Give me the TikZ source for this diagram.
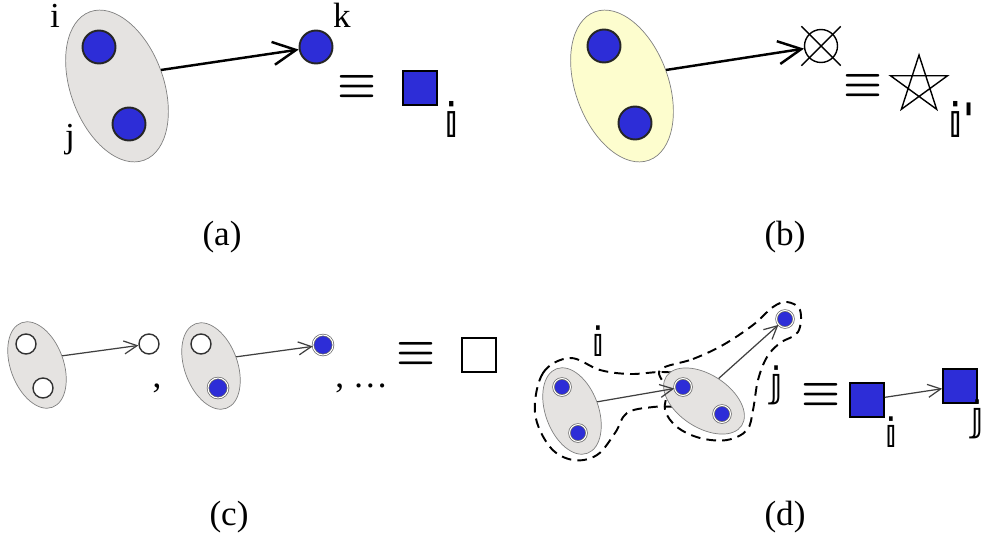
\documentclass[tikz,border=0pt]{standalone}
\usepackage{fontspec}
\setmainfont{Liberation Serif}
\newfontfamily\bbfont{DejaVu Sans}
\usetikzlibrary{shapes.geometric,shapes.misc,arrows.meta}

\definecolor{dotblue}{RGB}{45,45,215}
\definecolor{blobgray}{RGB}{229,227,225}
\definecolor{blobyellow}{RGB}{253,253,206}

\begin{document}
\begin{tikzpicture}[x=0.02cm,y=-0.02cm,
  blob/.style={ellipse,draw=black!50,fill=blobgray,inner sep=0pt,
    minimum width=3.16cm,minimum height=1.86cm,rotate=-70},
  smallblob/.style={blob,minimum width=1.8cm,minimum height=1.06cm},
  bigdot/.style={circle,draw=black!85,line width=1.1pt,fill=dotblue,
    inner sep=0pt,minimum size=0.66cm},
  smalldot/.style={circle,draw=black!80,line width=0.8pt,fill=white,
    inner sep=0pt,minimum size=0.4cm},
  ringdot/.style={smalldot,fill=dotblue,draw=black!60,line width=0.4pt,
    double=white,double distance=0.6pt},
  tinydot/.style={ringdot,minimum size=0.34cm},
  sq/.style={rectangle,draw=black,line width=1pt,fill=dotblue,
    inner sep=0pt,minimum size=0.68cm},
  bigarrow/.style={-{Straight Barb[length=0.46cm,width=0.46cm]},line width=1.4pt},
  thinarrow/.style={-{Straight Barb[length=0.26cm,width=0.26cm]},
    line width=0.7pt,black!75},
  hull/.style={dash pattern=on 5.5pt off 3.5pt,line width=1.1pt},
  lbl/.style={anchor=base,inner sep=0pt,font=\fontsize{20}{24}\selectfont},
  bblbl/.style={anchor=base,inner sep=0pt,font=\fontsize{27}{30}\bbfont},
  smallbb/.style={bblbl,font=\fontsize{23}{26}\bbfont},
  eqv/.style={inner sep=0pt,font=\fontsize{24}{28}\selectfont\boldmath}]
  \useasboundingbox (0,0) rectangle (986,537);

% (a) pair i,j feeding k
  \node[blob] (ea) at (117,86) {};
  \node[bigdot] (ai) at (99,47) {};
  \node[bigdot] (aj) at (129,124) {};
  \node[bigdot] (ak) at (316,47) {};
  \draw[bigarrow] (ea.north) -- (ak);
  \node[lbl] (li) at (55,28) {i};
  \node[lbl] (lj) at (70,147) {j};
  \node[lbl] (lk) at (342,28) {k};
  \node[eqv] (eqa) at (357,87) {$\equiv$};
  \node[sq] (sqa) at (420,88) {};
  \node[bblbl] (bba) at (451,137) {𝕚};
  \node[lbl] (capa) at (222,245) {(a)};

% (b) pair feeding a crossed site
  \node[blob,fill=blobyellow] (eb) at (622,86) {};
  \node[bigdot] (bi) at (604,46) {};
  \node[bigdot] (bj) at (635,123) {};
  \node[circle,draw,line width=0.8pt,inner sep=0pt,minimum size=0.66cm] (bk) at (821,46) {};
  \node[cross out,draw,line width=0.8pt,inner sep=0pt,minimum size=0.76cm] (bkx) at (bk) {};
  \draw[bigarrow] (eb.north) -- (bk);
  \node[eqv] (eqb) at (863,86) {$\equiv$};
  \coordinate (st) at (919,85);
  \draw[shift={(st)},line width=0.8pt,line join=miter]
    (-90:30) -- (54:30) -- (198:30) -- (-18:30) -- (126:30) -- cycle;
  \node[bblbl] (bbb) at (961,137) {𝕚'};
  \node[lbl] (capb) at (785,245) {(b)};

% (c) empty and occupied configurations
  \node[smallblob] (ec1) at (37,365) {};
  \node[smalldot] (c1i) at (26,344) {};
  \node[smalldot] (c1j) at (43,388) {};
  \node[smalldot] (c1k) at (149,344) {};
  \draw[thinarrow] (ec1.north) -- (c1k);
  \node[lbl] (cm1) at (157,387) {,};
  \node[smallblob] (ec2) at (211,366) {};
  \node[smalldot] (c2i) at (201,344) {};
  \node[ringdot] (c2j) at (218,388) {};
  \node[ringdot] (c2k) at (323,345) {};
  \draw[thinarrow] (ec2.north) -- (c2k);
  \node[lbl,anchor=base west] (cm2) at (335,387) {,~\ldots};
  \node[eqv] (eqc) at (416,354) {$\equiv$};
  \node[sq,fill=white] (sqc) at (479,355) {};
  \node[lbl] (capc) at (229,525) {(c)};

% (d) two composite sites i and j
  \draw[hull] plot[smooth cycle,tension=0.6] coordinates {
    (535,413) (543,373) (570,358) (600,370) (630,374) (663,372) (690,376)
    (698,390) (687,405) (653,407) (627,413) (615,433) (597,455) (573,460) (550,447)};
  \draw[hull] plot[smooth cycle,tension=0.6] coordinates {
    (660,370) (693,359) (723,345) (753,325) (773,307) (787,302) (800,310)
    (798,332) (780,343) (767,357) (758,380) (753,410) (747,430) (727,440)
    (700,438) (677,427) (665,410) (667,390)};
  \node[smallblob] (ed1) at (572,411) {};
  \node[smallblob,rotate=37] (ed2) at (704,401) {};
  \node[tinydot] (d1i) at (562,387) {};
  \node[tinydot] (d1j) at (578,433) {};
  \node[tinydot] (d2i) at (683,387) {};
  \node[tinydot] (d2j) at (722,414) {};
  \node[tinydot] (d3) at (785,319) {};
  \draw[thinarrow] (ed1.north) -- (d2i);
  \draw[thinarrow] (ed2.north) -- (d3);
  \node[smallbb] (bbi) at (598,356) {𝕚};
  \node[smallbb] (bbj) at (777,396) {𝕛};
  \node[eqv] (eqd) at (821,395) {$\equiv$};
  \node[sq] (sqi) at (867,400) {};
  \node[sq] (sqj) at (960,386) {};
  \draw[thinarrow] (sqi) -- (sqj);
  \node[smallbb] (bbsi) at (891,447) {𝕚};
  \node[smallbb] (bbsj) at (978,430) {𝕛};
  \node[lbl] (capd) at (785,525) {(d)};
\end{tikzpicture}
\end{document}
